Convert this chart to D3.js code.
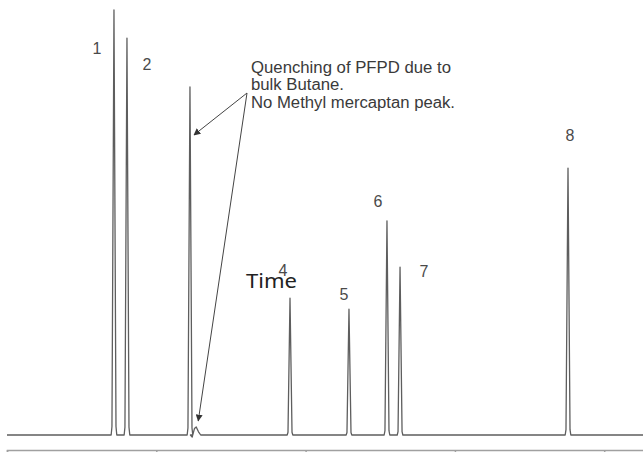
<!DOCTYPE html>
<html>
<head>
<meta charset="utf-8">
<script src="https://cdn.jsdelivr.net/npm/d3@7"></script>
<style>
  html, body { margin: 0; padding: 0; background: #fff; }
  svg { display: block; }
</style>
</head>
<body>
<svg id="chart" width="643" height="452"></svg>
<script>
// Peak numbers, retention times (min) and detector response (% of full scale)
const peakLabels = ["1", "2", "", "4", "5", "6", "7", "8"];
const retentionTimes = [1.433, 1.607, 2.451, 3.791, 4.581, 5.090, 5.265, 7.515];
const peakHeights = [100, 93.4, 81.9, 32.2, 29.6, 50.4, 39.5, 62.8];

// Small quenched methyl mercaptan response right after the butane peak
const bumpTimes = [2.535];
const bumpHeights = [1.9];

// Time axis ticks (min)
const timeTicks = [0, 2, 4, 6, 8];
const timeDomain = [0, 8.6];

const annotationLines = [
  "Quenching of PFPD due to",
  "bulk Butane.",
  "No Methyl mercaptan peak."
];

const svg = d3.select("#chart");

const x = d3.scaleLinear().domain(timeDomain).range([7, 649]);
const y = d3.scaleLinear().domain([0, 100]).range([435, 10]);

// Build the trace: flat baseline with sharp peaks at each retention time
const peakHalfWidth = 0.027;
const bumpHalfWidth = 0.06;
const pts = [[timeDomain[0], 0]];
const events = retentionTimes.map((t, i) => ({ t, h: peakHeights[i], w: peakHalfWidth }))
  .concat(bumpTimes.map((t, i) => ({ t, h: bumpHeights[i], w: bumpHalfWidth, bump: true })))
  .sort((a, b) => a.t - b.t);
events.forEach(e => {
  if (e.bump) {
    pts.push([e.t - e.w * 1.3, 0]);
    pts.push([e.t - e.w * 0.9, -0.5]);
    pts.push([e.t - e.w * 0.4, e.h * 0.8]);
    pts.push([e.t, e.h]);
    pts.push([e.t + e.w * 0.5, e.h * 0.4]);
    pts.push([e.t + e.w, 0]);
  } else {
    pts.push([e.t - e.w * 1.4, 0]);
    pts.push([e.t - e.w, e.h * 0.02]);
    pts.push([e.t, e.h]);
    pts.push([e.t + e.w, e.h * 0.02]);
    pts.push([e.t + e.w * 1.4, 0]);
  }
});
pts.push([timeDomain[1], 0]);

const line = d3.line().x(d => x(d[0])).y(d => y(d[1]));

svg.append("path")
  .attr("d", line(pts))
  .attr("fill", "none")
  .attr("stroke", "#5e5e5e")
  .attr("stroke-width", 1.3)
  .attr("stroke-linejoin", "round");

// Peak number labels, offset from each apex
const labelOffsets = [[-17, 44], [20, 32], [0, 0], [-7, -22], [-5, -9], [-9, -14], [24, 10], [2, -27]];
svg.append("g")
  .selectAll("text")
  .data(peakLabels.map((l, i) => ({ l, t: retentionTimes[i], h: peakHeights[i], o: labelOffsets[i] }))
    .filter(d => d.l !== ""))
  .join("text")
  .attr("x", d => x(d.t) + d.o[0])
  .attr("y", d => y(d.h) + d.o[1])
  .attr("text-anchor", "middle")
  .attr("font-family", "'Liberation Sans', Arial, sans-serif")
  .attr("font-size", 16)
  .attr("fill", "#4a4a4a")
  .text(d => d.l);

// Annotation text with arrows to the butane peak and the missing mercaptan peak
const ann = svg.append("g")
  .attr("font-family", "'Liberation Sans', Arial, sans-serif")
  .attr("font-size", 16)
  .attr("fill", "#3a3a3a");
const annWidths = [200, 93, 204];
annotationLines.forEach((s, i) => {
  ann.append("text")
    .attr("x", 251)
    .attr("y", 72.5 + i * 17.5)
    .attr("textLength", annWidths[i])
    .attr("lengthAdjust", "spacingAndGlyphs")
    .text(s);
});

svg.append("defs").append("marker")
  .attr("id", "arrow")
  .attr("viewBox", "0 0 10 10")
  .attr("refX", 9).attr("refY", 5)
  .attr("markerWidth", 7).attr("markerHeight", 7)
  .attr("markerUnits", "userSpaceOnUse")
  .attr("orient", "auto")
  .append("path")
  .attr("d", "M0,0 L10,5 L0,10 z")
  .attr("fill", "#333");

const origin = [247, 93];
const arrowEnds = [
  [x(retentionTimes[2]) + 4, y(70.6)],
  [x(bumpTimes[0]) + 2, y(bumpHeights[0]) - 6]
];
arrowEnds.forEach(end => {
  svg.append("line")
    .attr("x1", origin[0]).attr("y1", origin[1])
    .attr("x2", end[0]).attr("y2", end[1])
    .attr("stroke", "#444")
    .attr("stroke-width", 1)
    .attr("marker-end", "url(#arrow)");
});

// Time axis frame along the bottom
const axis = d3.axisBottom(x)
  .tickValues(timeTicks)
  .tickFormat("")
  .tickSizeInner(8)
  .tickSizeOuter(8);
const axisG = svg.append("g")
  .attr("transform", "translate(0,450)")
  .call(axis);
axisG.selectAll("path, line")
  .attr("stroke", "#a0a0a0")
  .attr("stroke-width", 1.5);

// Axis title
svg.append("text")
  .attr("x", 246)
  .attr("y", 288)
  .attr("textLength", 51)
  .attr("lengthAdjust", "spacingAndGlyphs")
  .attr("font-family", "'Noto Sans', sans-serif")
  .attr("font-size", 19)
  .attr("fill", "#222")
  .text("Time");
</script>
</body>
</html>
